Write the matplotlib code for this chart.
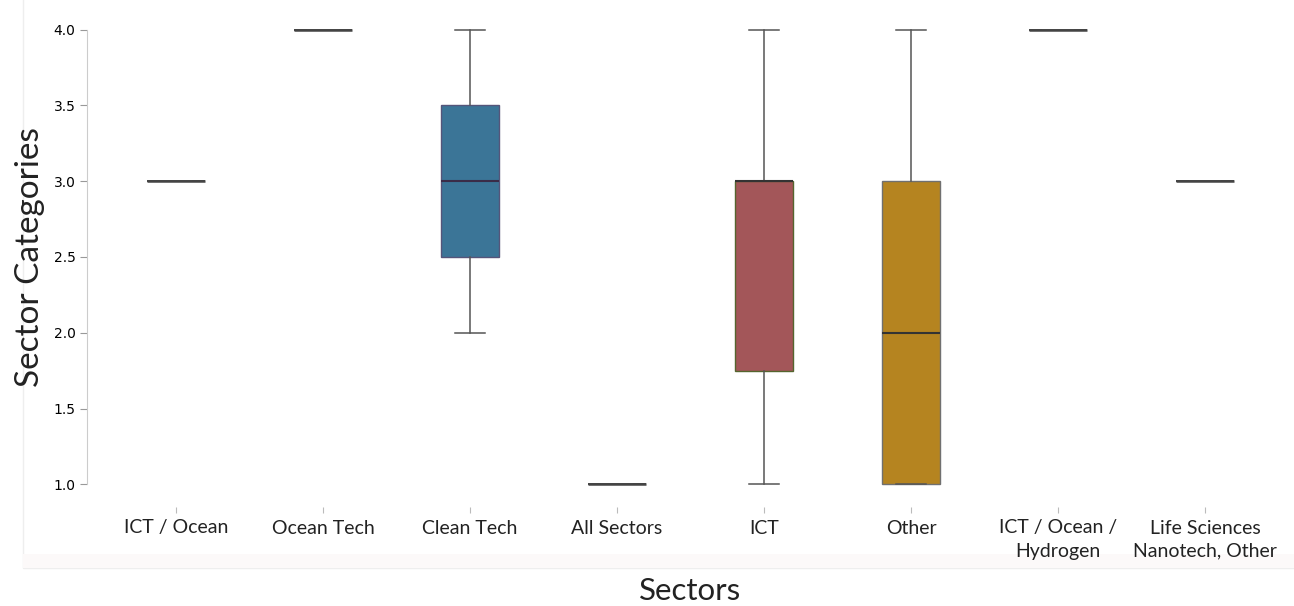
import matplotlib
matplotlib.use("Agg")
import matplotlib.pyplot as plt
from matplotlib.patches import Rectangle

# Sector box statistics (sector category scores, 1-4)
sectors = ["ICT / Ocean", "Ocean Tech", "Clean Tech", "All Sectors", "ICT",
           "Other", "ICT / Ocean /\nHydrogen", "Life Sciences\nNanotech, Other"]
whisker_low = [3.0, 4.0, 2.0, 1.0, 1.0, 1.0, 4.0, 3.0]
q1 = [3.0, 4.0, 2.5, 1.0, 1.75, 1.0, 4.0, 3.0]
median = [3.0, 4.0, 3.0, 1.0, 3.0, 2.0, 4.0, 3.0]
q3 = [3.0, 4.0, 3.5, 1.0, 3.0, 3.0, 4.0, 3.0]
whisker_high = [3.0, 4.0, 4.0, 1.0, 4.0, 4.0, 4.0, 3.0]

face_colors = ["#444444", "#444444", "#3b7597", "#444444", "#a35659",
               "#b58420", "#444444", "#444444"]
edge_colors = ["#444444", "#444444", "#55557a", "#444444", "#55652e",
               "#707070", "#444444", "#444444"]
median_colors = ["#444444", "#444444", "#3a2c48", "#444444", "#333333",
                 "#333333", "#444444", "#444444"]

stats = []
for i, name in enumerate(sectors):
    stats.append({"label": name, "whislo": whisker_low[i], "q1": q1[i],
                  "med": median[i], "q3": q3[i], "whishi": whisker_high[i],
                  "fliers": []})

fig = plt.figure(figsize=(12.94, 6.06), dpi=100)

# faint outer frame behind the plot
fig.patches.append(Rectangle((23 / 1294, 1 - 568 / 606), 1.0, 1.0,
                             transform=fig.transFigure, fill=False,
                             edgecolor="#eeeeee", lw=1, zorder=0))
fig.patches.append(Rectangle((23 / 1294, 1 - 568 / 606), 1.0, 14 / 606,
                             transform=fig.transFigure, facecolor="#fcf9f9",
                             edgecolor="none", zorder=0))

ax = fig.add_axes([102.5 / 1294, 1 - 507 / 606, 1176 / 1294, 500 / 606])
ax.set_zorder(2)
ax.patch.set_alpha(0)

res = ax.bxp(stats, positions=range(len(sectors)), widths=0.4,
             patch_artist=True, showfliers=False,
             whiskerprops=dict(color="#555555", lw=1.1),
             capprops=dict(color="#555555", lw=1.1),
             medianprops=dict(lw=1.5))

for i, box in enumerate(res["boxes"]):
    box.set_facecolor(face_colors[i])
    box.set_edgecolor(edge_colors[i])
    box.set_linewidth(1.4 if q1[i] == q3[i] else 1.0)
for i, med in enumerate(res["medians"]):
    med.set_color(median_colors[i])
    med.set_linewidth(1.8 if q1[i] == q3[i] else 1.5)

ax.set_xlim(-0.5, len(sectors) - 0.5)
ax.set_ylim(0.85, 4.15)
ax.set_yticks([1.0, 1.5, 2.0, 2.5, 3.0, 3.5, 4.0])
ax.set_yticklabels(["1.0", "1.5", "2.0", "2.5", "3.0", "3.5", "4.0"],
                   fontfamily="DejaVu Serif", fontsize=7, color="#333333")

ax.set_xticks(range(len(sectors)))
ax.set_xticklabels(sectors, fontfamily="Lato", fontsize=14,
                   color="#222222", linespacing=1.45)

for side in ["top", "right", "bottom"]:
    ax.spines[side].set_visible(False)
ax.spines["left"].set_position(("outward", 11.5))
ax.spines["left"].set_bounds(1.0, 4.0)
ax.spines["left"].set_color("#cccccc")
ax.tick_params(axis="y", length=5, color="#999999", pad=3)
ax.tick_params(axis="x", length=4, color="#bbbbbb", pad=5)

ax.set_ylabel("Sector Categories", fontfamily="Lato", fontsize=24,
              color="#222222", labelpad=6)
ax.set_xlabel("Sectors", fontfamily="Lato", fontsize=22.5, color="#222222",
              labelpad=12.5)

fig.savefig("out.png", dpi=100)
